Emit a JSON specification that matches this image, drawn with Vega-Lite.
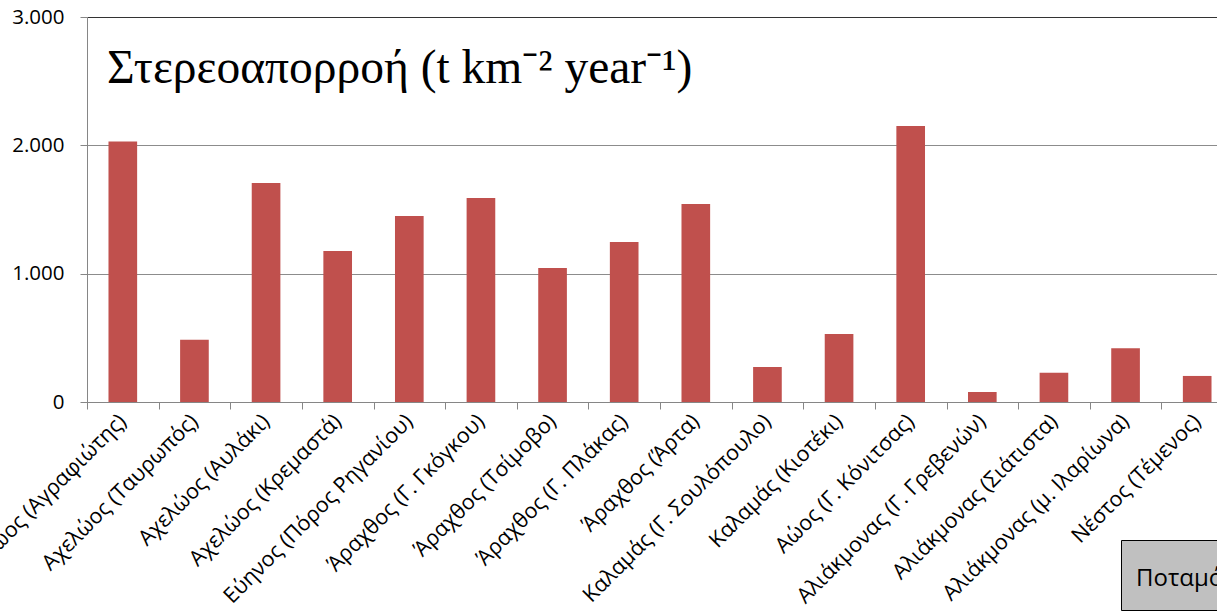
{
  "$schema": "https://vega.github.io/schema/vega-lite/v6.json",
  "width": 1130,
  "height": 385,
  "autosize": {"type": "none"},
  "padding": {"left": 87, "top": 17, "right": 0, "bottom": 210},
  "background": "white",
  "title": {
    "text": "Στερεοαπορροή (t km⁻² year⁻¹)",
    "font": "Liberation Serif",
    "fontSize": 47.5,
    "fontWeight": "normal",
    "color": "#000000",
    "anchor": "start",
    "frame": "group",
    "orient": "top",
    "baseline": "alphabetic",
    "offset": 0,
    "dx": 20,
    "dy": 123
  },
  "data": {
    "values": [
      {"station": "Αχελώος (Αγραφιώτης)", "value": 2030},
      {"station": "Αχελώος (Ταυρωπός)", "value": 485},
      {"station": "Αχελώος (Αυλάκι)", "value": 1706},
      {"station": "Αχελώος (Κρεμαστά)", "value": 1177},
      {"station": "Εύηνος (Πόρος Ρηγανίου)", "value": 1449},
      {"station": "Άραχθος (Γ. Γκόγκου)", "value": 1590},
      {"station": "Άραχθος (Τσίμοβο)", "value": 1044},
      {"station": "Άραχθος (Γ. Πλάκας)", "value": 1247},
      {"station": "Άραχθος (Άρτα)", "value": 1543},
      {"station": "Καλαμάς (Γ. Σουλόπουλο)", "value": 273},
      {"station": "Καλαμάς (Κιοτέκι)", "value": 530},
      {"station": "Αώος (Γ. Κόνιτσας)", "value": 2151},
      {"station": "Αλιάκμονας (Γ. Γρεβενών)", "value": 78},
      {"station": "Αλιάκμονας (Σιάτιστα)", "value": 228},
      {"station": "Αλιάκμονας (μ. Ιλαρίωνα)", "value": 418},
      {"station": "Νέστος (Τέμενος)", "value": 203}
    ]
  },
  "mark": {"type": "bar", "width": {"band": 0.4}},
  "encoding": {
    "x": {
      "field": "station",
      "type": "nominal",
      "sort": null,
      "scale": {"paddingInner": 0, "paddingOuter": 0, "range": [0, 1146]},
      "axis": {
        "title": null,
        "tickBand": "extent",
        "labelAngle": -45,
        "labelAlign": "right",
        "labelBaseline": "middle",
        "labelPadding": 9,
        "labelFont": "Open Sans",
        "labelFontSize": 21.5,
        "labelColor": "#000000",
        "labelOverlap": false,
        "labelLimit": 0,
        "tickSize": 7,
        "tickColor": "#868686",
        "domainColor": "#868686",
        "grid": false
      }
    },
    "y": {
      "field": "value",
      "type": "quantitative",
      "scale": {"domain": [0, 3000], "nice": false},
      "axis": {
        "title": null,
        "values": [0, 1000, 2000, 3000],
        "labelExpr": "replace(format(datum.value, ','), ',', '.')",
        "labelFont": "Open Sans",
        "labelFontSize": 20.5,
        "labelColor": "#000000",
        "labelPadding": 16,
        "tickSize": 7,
        "tickColor": "#868686",
        "domainColor": "#868686",
        "grid": true,
        "gridColor": {"condition": {"test": "datum.value === 3000", "value": "#333333"}, "value": "#8c8c8c"}
      }
    },
    "color": {
      "datum": "Στερεοαπορροή",
      "scale": {"range": ["#C0504D"]},
      "legend": {
        "title": "Ποταμός (Σταθμός)",
        "orient": "none",
        "legendX": 1034,
        "legendY": 523,
        "fillColor": "#c0c0c0",
        "strokeColor": "#000000",
        "padding": 15,
        "titleFont": "Open Sans",
        "titleFontSize": 24,
        "titleFontWeight": "normal",
        "titleColor": "#000000",
        "titleBaseline": "line-top",
        "titleLineHeight": 49,
        "symbolOpacity": 0,
        "labelExpr": "''"
      }
    }
  },
  "config": {"view": {"stroke": null}}
}
